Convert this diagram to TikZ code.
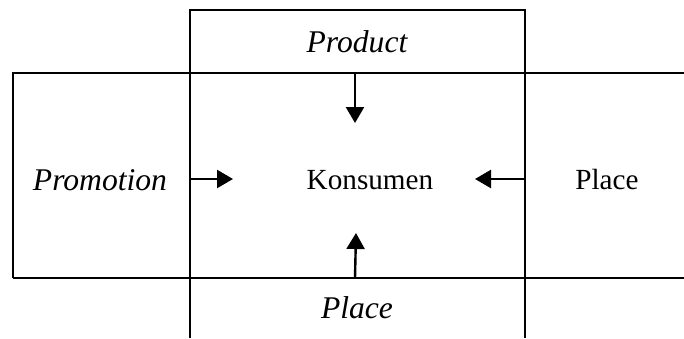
\documentclass[tikz,border=0pt]{standalone}
\usepackage{fontspec}
\setmainfont{Liberation Serif}
\usetikzlibrary{arrows.meta}
\begin{document}
\begin{tikzpicture}[x=0.5pt,y=-0.5pt, line width=1pt,
  lbl/.style={font=\fontsize{14.6}{17}\selectfont, inner sep=0pt},
  ilbl/.style={font=\fontsize{15.8}{18}\selectfont\itshape, inner sep=0pt},
  arr/.style={-{Triangle[length=8pt,width=9pt]}, line width=1.2pt}]
\useasboundingbox (0,0) rectangle (684,338);
% frame lines
\draw (190,338) -- (190,10) -- (525,10) -- (525,338);
\draw (13,278) -- (13,73) -- (684,73);
\draw (13,278) -- (684,278);
% labels
\node[ilbl] (product) at (357,42) {Product};
\node[ilbl] (promotion) at (100,180) {Promotion};
\node[lbl] (konsumen) at (370,180) {Konsumen};
\node[lbl] (placer) at (607,180) {Place};
\node[ilbl] (placeb) at (357,308) {Place};
% arrow end points
\coordinate (t0) at (355,73);  \coordinate (t1) at (355,123);
\coordinate (l0) at (190,179); \coordinate (l1) at (233,179);
\coordinate (r0) at (525,179); \coordinate (r1) at (475,179);
\coordinate (b0) at (355,278); \coordinate (b1) at (356,233);
\draw[arr] (t0) -- (t1);
\draw[arr] (l0) -- (l1);
\draw[arr] (r0) -- (r1);
\draw[arr] (b0) -- (b1);
\end{tikzpicture}
\end{document}
